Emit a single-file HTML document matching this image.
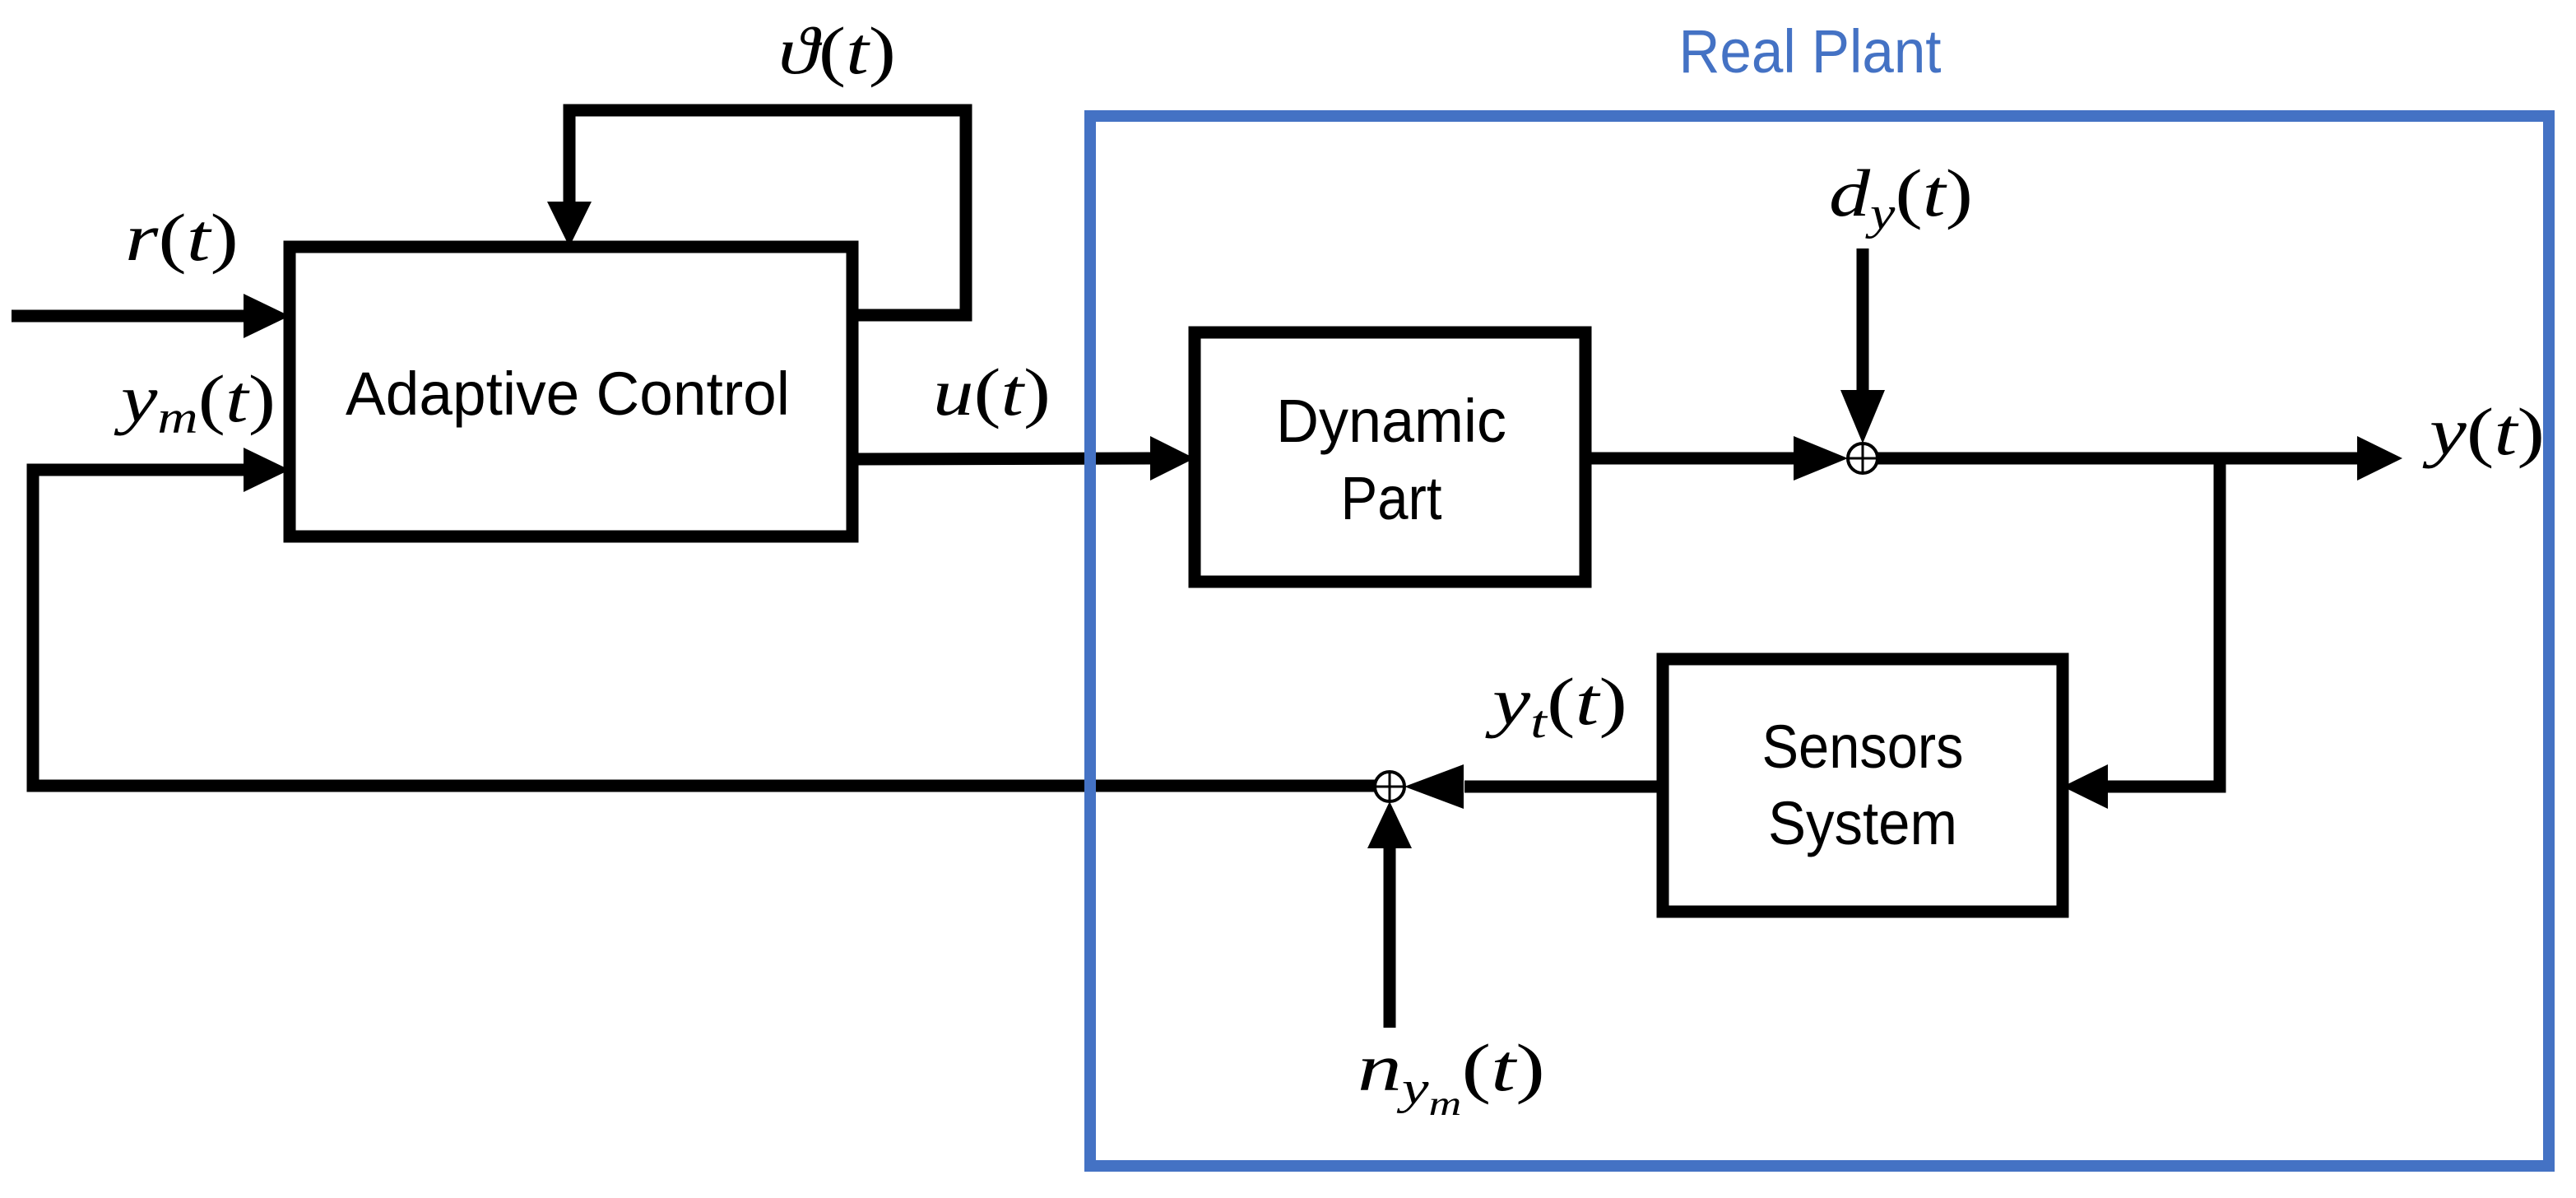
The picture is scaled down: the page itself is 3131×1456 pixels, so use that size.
<!DOCTYPE html>
<html><head><meta charset="utf-8"><style>html,body{margin:0;padding:0;background:#fff}svg{display:block}</style></head>
<body>
<svg width="3131" height="1456" viewBox="0 0 3131 1456" xmlns="http://www.w3.org/2000/svg">
<g fill="none" stroke="#000" stroke-width="15">
<rect x="352" y="300" width="684" height="352"/>
<rect x="1452" y="404" width="475" height="303"/>
<rect x="2021" y="801" width="486" height="307"/>
<polyline points="14,384 300,384"/>
<polyline points="300,571 40,571 40,955 1671,955"/>
<polyline points="1036,383 1174,383 1174,134 692,134 692,248"/>
<polyline points="1036,558 1400,557"/>
<polyline points="1927,557 2180,557"/>
<polyline points="2264,302 2264,480"/>
<polyline points="2282,557 2865,557"/>
<polyline points="2698,557 2698,956 2560,956"/>
<polyline points="2021,956 1780,956"/>
<polyline points="1689,1249 1689,1030"/>
</g>
<rect x="1325" y="141" width="1773" height="1276" fill="none" stroke="#4472C4" stroke-width="14"/>
<g fill="#000">
<polygon points="296,357 352,384 296,411"/>
<polygon points="296,544 352,571 296,598"/>
<polygon points="665,245 719,245 692,300"/>
<polygon points="1398,530 1452,557 1398,584"/>
<polygon points="2180,530 2246,557 2180,584"/>
<polygon points="2237,474 2291,474 2264,539"/>
<polygon points="2865,530 2920,557 2865,584"/>
<polygon points="2562,929 2507,956 2562,983"/>
<polygon points="1779,929 1707,956 1779,983"/>
<polygon points="1662,1031 1716,1031 1689,974"/>
</g>
<g fill="#fff" stroke="#000" stroke-width="4">
<circle cx="2264" cy="557" r="18"/>
<circle cx="1689" cy="956" r="18"/>
</g>
<g stroke="#000" stroke-width="3">
<line x1="2246" y1="557" x2="2282" y2="557"/><line x1="2264" y1="539" x2="2264" y2="575"/>
<line x1="1671" y1="956" x2="1707" y2="956"/><line x1="1689" y1="938" x2="1689" y2="974"/>
</g>
<g font-family="Liberation Sans, sans-serif" font-size="74" text-anchor="middle" fill="#000">
<text x="690" y="504" textLength="540" lengthAdjust="spacingAndGlyphs">Adaptive Control</text>
<text x="1691" y="537" textLength="280" lengthAdjust="spacingAndGlyphs">Dynamic</text>
<text x="1691" y="631" textLength="123" lengthAdjust="spacingAndGlyphs">Part</text>
<text x="2264" y="933" textLength="245" lengthAdjust="spacingAndGlyphs">Sensors</text>
<text x="2264" y="1026" textLength="230" lengthAdjust="spacingAndGlyphs">System</text>
<text x="2200" y="88" fill="#4472C4" textLength="319" lengthAdjust="spacingAndGlyphs">Real Plant</text>
</g>
<g font-family="Liberation Serif, serif" font-size="82" fill="#000">
<text x="946" y="89" textLength="143" lengthAdjust="spacingAndGlyphs"><tspan font-style="italic">ϑ</tspan>(<tspan font-style="italic">t</tspan>)</text>
<text x="152" y="316" textLength="138" lengthAdjust="spacingAndGlyphs"><tspan font-style="italic">r</tspan>(<tspan font-style="italic">t</tspan>)</text>
<text x="147" y="512" textLength="188" lengthAdjust="spacingAndGlyphs"><tspan font-style="italic">y</tspan><tspan font-style="italic" font-size="56" dy="14">m</tspan><tspan dy="-14">(</tspan><tspan font-style="italic">t</tspan>)</text>
<text x="1134" y="504" textLength="143" lengthAdjust="spacingAndGlyphs"><tspan font-style="italic">u</tspan>(<tspan font-style="italic">t</tspan>)</text>
<text x="2223" y="262" textLength="175" lengthAdjust="spacingAndGlyphs"><tspan font-style="italic">d</tspan><tspan font-style="italic" font-size="56" dy="16">y</tspan><tspan dy="-16">(</tspan><tspan font-style="italic">t</tspan>)</text>
<text x="2953" y="552" textLength="140" lengthAdjust="spacingAndGlyphs"><tspan font-style="italic">y</tspan>(<tspan font-style="italic">t</tspan>)</text>
<text x="1814" y="880" textLength="164" lengthAdjust="spacingAndGlyphs"><tspan font-style="italic">y</tspan><tspan font-style="italic" font-size="56" dy="16">t</tspan><tspan dy="-16">(</tspan><tspan font-style="italic">t</tspan>)</text>
<text x="1650" y="1325" textLength="228" lengthAdjust="spacingAndGlyphs"><tspan font-style="italic">n</tspan><tspan font-style="italic" font-size="56" dy="16">y</tspan><tspan font-style="italic" font-size="42" dy="14">m</tspan><tspan dy="-30">(</tspan><tspan font-style="italic">t</tspan>)</text>
</g>
</svg>
</body></html>
